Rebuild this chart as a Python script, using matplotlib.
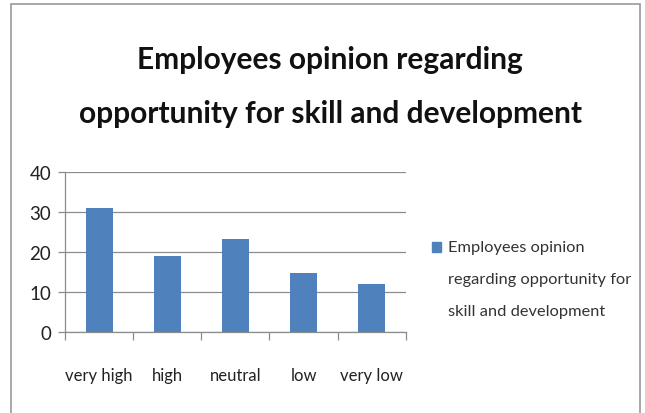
import matplotlib
matplotlib.use("Agg")
import matplotlib.pyplot as plt
from matplotlib.patches import Rectangle

# Survey results: employees opinion on skill and development opportunity
categories = ["very high", "high", "neutral", "low", "very low"]
values = [31, 19, 23.3, 14.7, 12.1]
y_ticks = [0, 10, 20, 30, 40]
title = "Employees opinion regarding\nopportunity for skill and development"
series_name = "Employees opinion\nregarding opportunity for\nskill and development"

plt.rcParams["font.family"] = ["Lato", "DejaVu Sans"]

bar_color = "#4F81BD"
grid_color = "#8C8C8C"

fig = plt.figure(figsize=(6.45, 4.14), dpi=100)
ax = fig.add_axes([0.101, 0.195, 0.528, 0.388])

x = list(range(len(categories)))
ax.bar(x, values, width=0.4, color=bar_color, zorder=3)

ax.set_xlim(-0.5, len(categories) - 0.5)
ax.set_ylim(0, 40)
ax.set_yticks(y_ticks)
ax.yaxis.grid(True, color=grid_color, linewidth=0.9, zorder=0)

ax.set_xticks(x)
ax.set_xticklabels(categories, fontsize=12, color="#222222")
ax.set_xticks([i - 0.5 for i in range(len(categories) + 1)], minor=True)
ax.tick_params(axis="x", which="major", length=0, pad=25)
ax.tick_params(axis="x", which="minor", length=6, color=grid_color, width=0.9)
ax.tick_params(axis="y", length=5, color=grid_color, width=0.9, pad=5,
               labelsize=13.5, labelcolor="#222222")

for side in ("top", "right"):
    ax.spines[side].set_visible(False)
for side in ("left", "bottom"):
    ax.spines[side].set_color(grid_color)
    ax.spines[side].set_linewidth(0.9)

fig.text(0.512, 0.789, title, ha="center", va="center", fontsize=21.5,
         fontweight="bold", color="#111111", linespacing=2.12)

# legend drawn by hand so the wrapped label sits like the original
fig.patches.append(Rectangle((432 / 645, 1 - 253 / 414), 9 / 645, 10 / 414,
                             transform=fig.transFigure, color=bar_color))
fig.text(448 / 645, 1 - 241 / 414, series_name, ha="left", va="top",
         fontsize=11.8, color="#333333", linespacing=2.62)

# outer chart frame
fig.patches.append(Rectangle((11 / 645, -0.05), 629 / 645, 1.05 - 5 / 414,
                             transform=fig.transFigure, fill=False,
                             edgecolor="#9A9A9A", linewidth=1.2))

fig.savefig("out.png", dpi=100)
